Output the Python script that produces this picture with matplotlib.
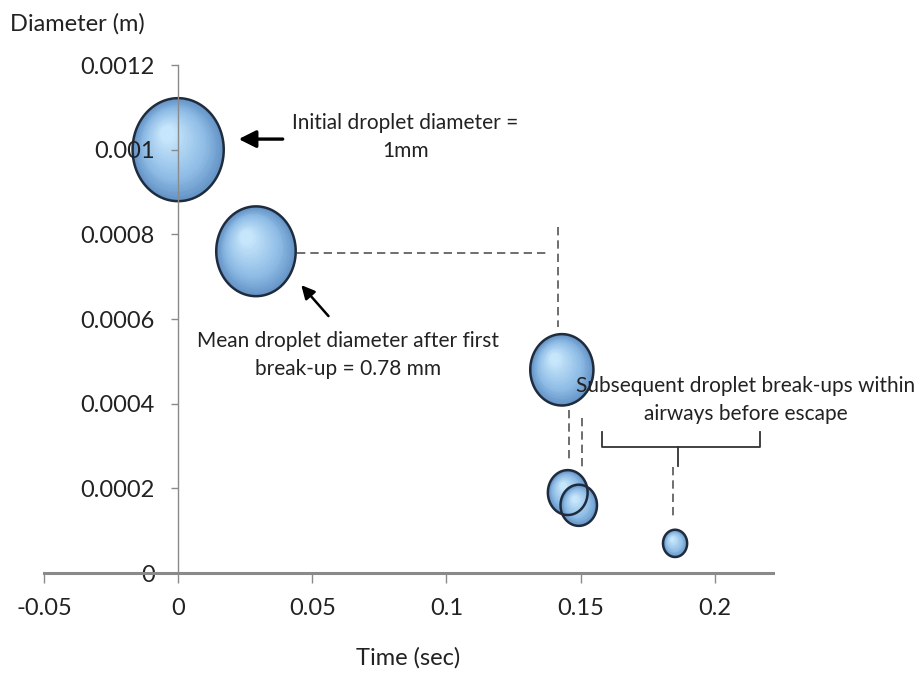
import numpy as np
import matplotlib
matplotlib.use("Agg")
import matplotlib.pyplot as plt
from matplotlib.path import Path
from matplotlib.transforms import offset_copy
from matplotlib.colors import to_rgb

# droplet break-up data
time = [0.0, 0.029, 0.143, 0.1452, 0.1493, 0.1852]
diameter = [0.001, 0.00076, 0.00048, 0.00019, 0.00016, 0.00007]

xticks = [-0.05, 0, 0.05, 0.1, 0.15, 0.2]
xtick_labels = ["-0.05", "0", "0.05", "0.1", "0.15", "0.2"]
yticks = [0, 0.0002, 0.0004, 0.0006, 0.0008, 0.001, 0.0012]
ytick_labels = ["0", "0.0002", "0.0004", "0.0006", "0.0008", "0.001", "0.0012"]

plt.rcParams['font.family'] = ['Lato', 'DejaVu Sans']

fig = plt.figure(figsize=(9.22, 6.79), dpi=100)
ax = fig.add_axes([44 / 922, 1 - 573 / 679, (773 - 44) / 922, (573 - 65) / 679])
ax.set_xlim(-0.05, 0.2217)
ax.set_ylim(0, 0.0012)

# slightly tall ellipse marker (picture is stretched vertically)
th = np.linspace(0, 2 * np.pi, 120)
ell = Path(np.column_stack([0.885 * np.cos(th), np.sin(th)]), closed=True)

size_scale = 5.5e6  # bubble area proportional to diameter value
dark = np.array(to_rgb("#6392c5"))
mid = np.array(to_rgb("#8dbbe5"))
light = np.array(to_rgb("#c6e6fb"))


def blend(t):
    if t < 0.35:
        u = t / 0.35
        return dark * (1 - u) + mid * u
    u = (t - 0.35) / 0.65
    return mid * (1 - u) + light * u


n = 28
for x, d in zip(time, diameter):
    s = d * size_scale
    r = np.sqrt(s) / 2
    for k in range(n):
        t = k / (n - 1)
        sc = 1 - 0.85 * t
        tr = offset_copy(ax.transData, fig=fig, x=-0.22 * r * t,
                         y=0.32 * r * t, units='points')
        ax.scatter([x], [d], s=s * sc ** 2, marker=ell, color=blend(t),
                   linewidths=0, transform=tr, zorder=1.2, clip_on=False)
    ax.scatter([x], [d], s=s, marker=ell, facecolors='none',
               edgecolors='#1f2c3e', linewidths=1.8, zorder=1.3, clip_on=False)

# spines like Excel axes crossing at zero
for side in ['top', 'right']:
    ax.spines[side].set_visible(False)
ax.spines['left'].set_position(('data', 0))
ax.spines['left'].set_color('#8a8a8a')
ax.spines['left'].set_linewidth(1.0)
ax.spines['bottom'].set_color('#8a8a8a')
ax.spines['bottom'].set_linewidth(2.2)

ax.set_xticks(xticks)
ax.set_xticklabels(xtick_labels)
ax.set_yticks(yticks)
ax.set_yticklabels(ytick_labels)
ax.tick_params(axis='x', direction='out', length=7, width=1, color='#8a8a8a',
               labelsize=17, pad=11, labelcolor='#222222')
ax.tick_params(axis='y', direction='out', length=5, width=1, color='#8a8a8a',
               labelsize=17, pad=12, labelcolor='#222222')

ax.set_xlabel("Time (sec)", fontsize=17, labelpad=20, color='#222222')
fig.text(10 / 922, 1 - 24 / 679, "Diameter (m)", fontsize=17, ha='left',
         va='center', color='#222222')

# annotations
ax.text(0.0848, 0.00103, "Initial droplet diameter =\n1mm", fontsize=15,
        ha='center', va='center', linespacing=1.5, color='#222222')
ax.annotate("", xy=(0.0215, 0.001025), xytext=(0.0400, 0.001025),
            arrowprops=dict(arrowstyle='-|>', color='black', lw=2.4,
                            mutation_scale=26))
ax.text(0.0633, 0.000515, "Mean droplet diameter after first\nbreak-up = 0.78 mm",
        fontsize=15, ha='center', va='center', linespacing=1.5, color='#222222')
ax.annotate("", xy=(0.0452, 0.000685), xytext=(0.0567, 0.000602),
            arrowprops=dict(arrowstyle='-|>', color='black', lw=1.8,
                            mutation_scale=20))
ax.text(0.2115, 0.000409, "Subsequent droplet break-ups within\nairways before escape",
        fontsize=15, ha='center', va='center', linespacing=1.5, color='#222222',
        zorder=4)

dash = dict(color='#555555', lw=1.2, linestyle=(0, (5, 3)), zorder=1)
ax.plot([0.0444, 0.1385], [0.000756, 0.000756], **dash)
ax.plot([0.1415, 0.1415], [0.000817, 0.000580], **dash)
ax.plot([0.1456, 0.1456], [0.000385, 0.000260], **dash)
ax.plot([0.1504, 0.1504], [0.000366, 0.000248], **dash)
ax.plot([0.1844, 0.1844], [0.000250, 0.000130], **dash)

# bracket
ax.plot([0.1581, 0.1581, 0.2170, 0.2170],
        [0.000333, 0.000298, 0.000298, 0.000333], color='#333333', lw=1.3)
ax.plot([0.1863, 0.1863], [0.000298, 0.000253], color='#333333', lw=1.3)

fig.savefig("out.png", dpi=100)
